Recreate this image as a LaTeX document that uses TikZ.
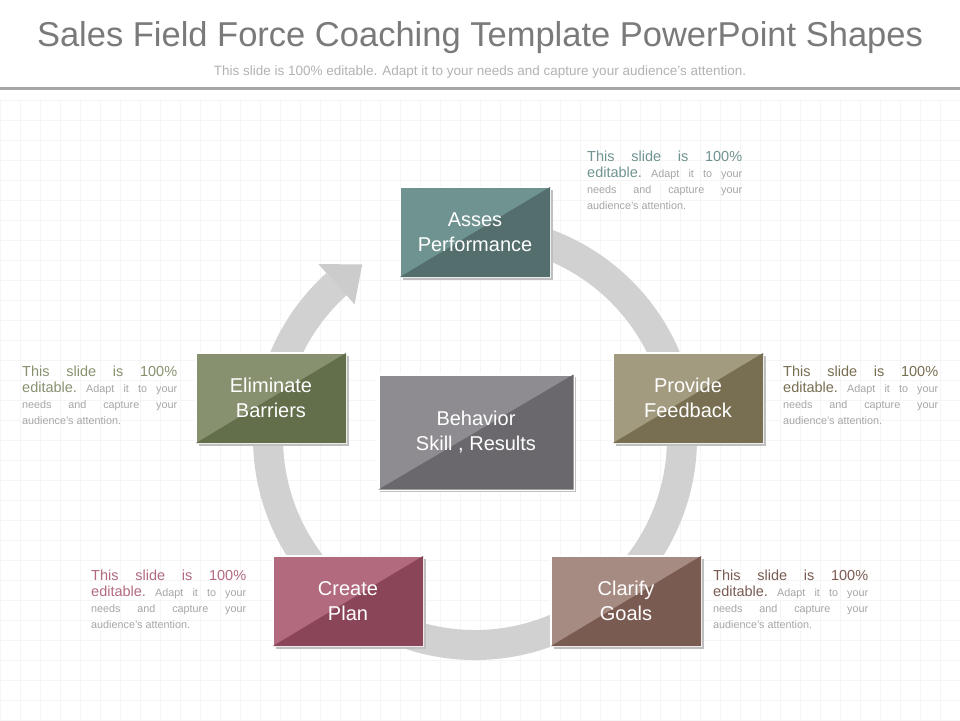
\documentclass[tikz,border=0pt]{standalone}
\usepackage{fontspec}
\setmainfont{Liberation Sans}
\usetikzlibrary{positioning,calc}
\definecolor{tealL}{HTML}{6F9391}\definecolor{tealD}{HTML}{536E6C}
\definecolor{khakiL}{HTML}{A39B7F}\definecolor{khakiD}{HTML}{786E51}
\definecolor{brownL}{HTML}{A68B82}\definecolor{brownD}{HTML}{7A5B52}
\definecolor{roseL}{HTML}{B26B7E}\definecolor{roseD}{HTML}{8A4658}
\definecolor{oliveL}{HTML}{87916F}\definecolor{oliveD}{HTML}{636E4B}
\definecolor{greyL}{HTML}{8E8C90}\definecolor{greyD}{HTML}{6A686C}
\newcommand{\stepbox}[6]{% name, x, y, light, dark, text
  \fill[black!25] (#2-75+3,#3-45+3) rectangle (#2+75+3,#3+45+3);
  \node[draw=white, line width=2.5pt, fill=#4, minimum width=150pt, minimum height=90pt,
        inner sep=0pt] (#1) at (#2,#3) {};
  \fill[#5] ([shift={(1.25pt,1.25pt)}]#1.south west) -- ([shift={(-1.25pt,-1.25pt)}]#1.north east)
        -- ([shift={(-1.25pt,1.25pt)}]#1.south east) -- cycle;
  \node[text=white, font=\fontsize{20}{25}\selectfont, align=center] at (#1) {#6};}
\newcommand{\blurb}[4]{% name, x, y, colour
  \node[anchor=north west, text width=155pt, align=justify, inner sep=0pt] (#1) at (#2,#3)
    {\hyphenpenalty=10000\exhyphenpenalty=10000\frenchspacing
     \fontsize{14.5}{18}\selectfont\textcolor{#4}{This slide is 100\%\linebreak editable.}\fontsize{10.8}{16}\selectfont{}
     \textcolor{black!35}{Adapt it to your\linebreak needs and capture your\linebreak audience's attention.}\par};}
\begin{document}
\begin{tikzpicture}[x=1pt, y=-1pt]
  \useasboundingbox (0,0) rectangle (960,720);
  \fill[white] (0,0) rectangle (960,720);
  % faint grid
  \foreach \gx in {0,20,...,960} \draw[black!4] (\gx,100) -- (\gx,720);
  \foreach \gy in {100,120,...,720} \draw[black!4] (0,\gy) -- (960,\gy);
  \node (title) at (480,38) {\fontsize{34.5}{40}\selectfont\textcolor{black!52}{Sales Field Force Coaching Template PowerPoint Shapes}};
  \node (sub) at (480,72) {\fontsize{13.5}{16}\selectfont\textcolor{black!30}{This slide is 100\% editable. Adapt it to your needs and capture your audience's attention.}};
  \draw[black!35, line width=3pt] (0,88) -- (960,88);
  % ring
  \coordinate (c) at (475,438);
  \draw[black!18, line width=30pt] (c) ++(-95:207) arc[start angle=-95, end angle=228, radius=207];
  \fill[black!20] ($(c)+(228:180)$) -- ($(c)+(228:234)$) -- ($(c)+(237:207)$) -- cycle;
  \stepbox{asses}{475}{232}{tealL}{tealD}{Asses\\Performance}
  \stepbox{provide}{688}{398}{khakiL}{khakiD}{Provide\\Feedback}
  \stepbox{clarify}{626}{601}{brownL}{brownD}{Clarify\\Goals}
  \stepbox{create}{348}{601}{roseL}{roseD}{Create\\Plan}
  \stepbox{eliminate}{271}{398}{oliveL}{oliveD}{Eliminate\\Barriers}
  % centre box
  \fill[black!25] (380,377) rectangle (576,492);
  \node[draw=white, line width=2.5pt, fill=greyL, minimum width=195pt, minimum height=115pt,
        inner sep=0pt] (centre) at (476,432) {};
  \fill[greyD] ([shift={(1.25pt,1.25pt)}]centre.south west) -- ([shift={(-1.25pt,-1.25pt)}]centre.north east)
        -- ([shift={(-1.25pt,1.25pt)}]centre.south east) -- cycle;
  \node[text=white, font=\fontsize{20}{25}\selectfont, align=center] at (centre) {Behavior\\Skill , Results};
  \blurb{tasses}{587}{151}{tealL}
  \blurb{tprovide}{783}{366}{khakiD}
  \blurb{teliminate}{22}{366}{oliveL}
  \blurb{tcreate}{91}{570}{roseL}
  \blurb{tclarify}{713}{570}{brownD}
\end{tikzpicture}
\end{document}
